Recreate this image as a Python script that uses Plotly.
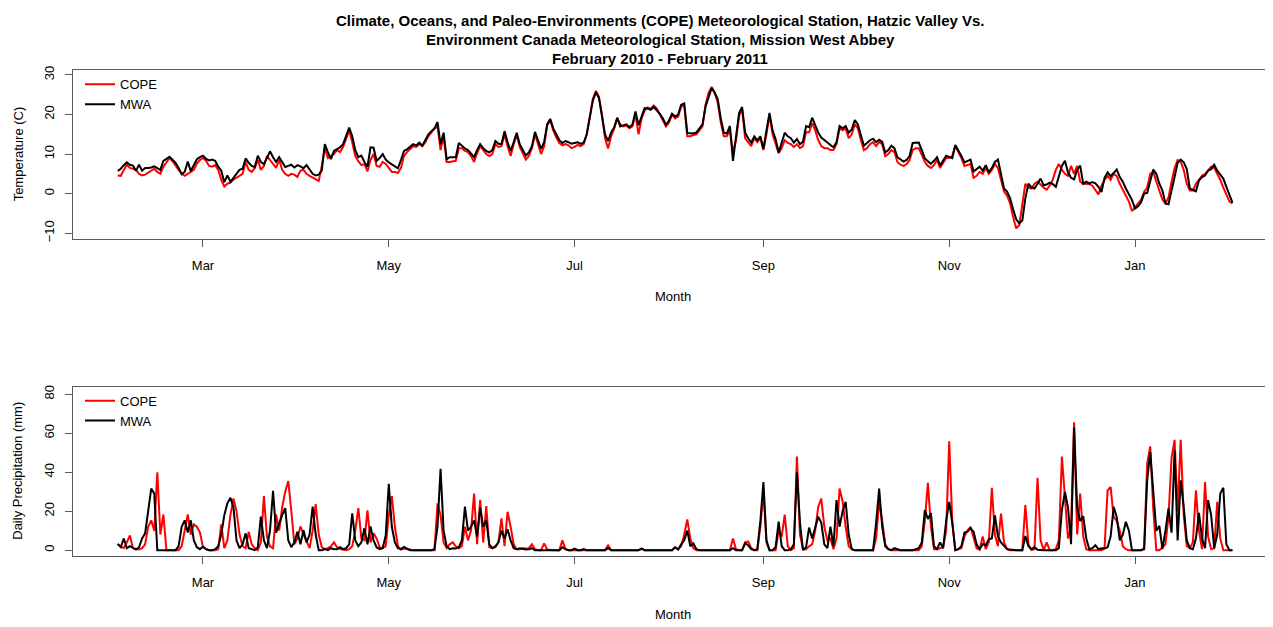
import pandas as pd
import plotly.graph_objects as go

# ---------------- data (daily, starting 2010-02-01) ----------------
START = "2010-02-01"

# Temperature (C), MWA (Environment Canada, Mission West Abbey)
mwa_temp = [
    # Feb 2010
    5.7, 6.3, 7.2, 7.9, 7.3, 7.1, 5.8, 7.3, 5.8, 6.5, 6.5, 6.6, 6.9, 6.4, 6.0, 8.3, 8.8, 9.3, 8.6, 7.8, 6.5, 4.9, 5.5, 8.1, 5.7, 7.2, 8.7, 9.2,
    # Mar
    9.6, 8.8, 8.4, 8.6, 8.3, 6.8, 5.8, 2.9, 4.6, 3.0, 4.0, 5.2, 6.0, 6.3, 8.9, 7.8, 7.0, 6.7, 9.6, 8.0, 7.5, 9.0, 10.7, 9.2, 8.0, 9.2, 7.8, 6.7, 7.0, 7.3, 6.6,
    # Apr
    7.2, 6.9, 6.4, 7.2, 6.0, 5.0, 4.6, 4.8, 5.8, 12.5, 10.5, 8.7, 10.8, 11.3, 11.7, 12.5, 14.5, 16.7, 14.5, 11.0, 9.2, 9.6, 8.0, 6.8, 11.7, 11.6, 8.3, 9.0, 10.0, 8.6,
    # May
    7.9, 7.4, 6.7, 6.4, 8.5, 10.8, 11.2, 11.8, 12.5, 12.2, 12.9, 12.1, 13.6, 15.0, 15.8, 16.5, 18.1, 12.5, 15.4, 8.7, 9.2, 9.2, 9.2, 12.8, 12.0, 11.4, 11.0, 10.0, 9.2, 11.0, 12.5,
    # Jun
    11.5, 10.8, 10.4, 11.0, 13.3, 12.6, 12.5, 15.8, 13.0, 10.8, 13.0, 15.4, 12.5, 11.0, 9.6, 10.4, 12.0, 15.6, 13.5, 11.3, 13.0, 17.5, 18.9, 16.5, 15.0, 13.5, 12.8, 13.3, 13.0, 12.6,
    # Jul
    12.8, 13.0, 12.6, 12.9, 15.0, 19.2, 23.5, 25.6, 24.2, 19.5, 15.0, 13.3, 15.5, 16.7, 19.2, 17.0, 17.2, 17.5, 16.8, 17.5, 20.8, 17.3, 19.5, 21.6, 21.5, 21.2, 21.9, 21.0, 20.2, 19.0, 17.4,
    # Aug
    18.5, 20.2, 19.5, 20.0, 22.5, 22.8, 15.3, 15.2, 15.2, 15.5, 16.5, 17.5, 22.0, 24.6, 26.7, 25.5, 23.9, 19.0, 15.4, 15.2, 17.1, 8.3, 14.0, 20.4, 21.9, 15.4, 14.0, 12.9, 14.5, 13.5, 14.5,
    # Sep
    11.3, 16.0, 20.4, 16.0, 13.8, 10.4, 12.8, 15.4, 14.5, 14.0, 12.9, 13.8, 12.5, 13.2, 17.1, 16.8, 19.2, 17.5, 15.4, 14.2, 13.5, 12.9, 12.3, 11.7, 13.0, 17.1, 16.5, 17.1, 15.4, 16.2,
    # Oct
    18.6, 17.5, 15.0, 12.1, 12.8, 13.5, 13.9, 13.0, 13.6, 13.1, 10.4, 11.0, 12.1, 11.5, 9.2, 8.6, 8.1, 8.5, 9.5, 12.8, 12.9, 12.9, 11.0, 8.9, 8.2, 7.5, 8.3, 9.2, 7.1, 8.5, 9.6,
    # Nov
    9.3, 9.0, 12.3, 11.0, 9.5, 7.9, 8.2, 8.6, 5.6, 6.3, 6.8, 5.8, 7.2, 5.4, 6.5, 8.0, 8.6, 5.0, 1.3, 0.5, -1.2, -4.0, -6.5, -7.5, -6.8, -1.2, 2.5, 1.6, 1.3, 2.5,
    # Dec
    3.8, 2.1, 2.3, 2.8, 2.4, 1.7, 4.6, 7.0, 8.3, 5.4, 4.0, 3.6, 6.0, 7.1, 2.5, 3.0, 2.6, 2.9, 2.6, 1.7, 0.4, 4.0, 5.4, 4.4, 5.2, 6.1, 4.2, 3.0, 1.3, -0.2, -1.6,
    # Jan 2011
    -3.8, -3.2, -2.2, 0.0, 0.2, 2.9, 6.1, 5.0, 2.5, 0.8, -2.5, -2.7, 0.5, 4.2, 7.8, 8.6, 7.9, 6.2, 1.3, 1.0, 0.6, 3.3, 4.2, 4.6, 5.8, 6.2, 7.3, 5.8, 4.8, 3.8, 1.7,
    # Feb 2011
    -0.3, -2.3,
]

# Temperature (C), COPE (Hatzic Valley)
cope_temp = [
    4.6, 4.5, 6.0, 7.3, 6.5, 6.3, 6.0, 5.0, 4.6, 4.8, 5.3, 5.9, 6.3, 5.5, 5.0, 6.8, 8.0, 9.0, 8.2, 7.0, 6.0, 5.0, 4.5, 5.0, 5.5, 6.0, 7.6, 8.5,
    9.0, 8.3, 7.0, 6.8, 7.2, 6.0, 3.5, 1.8, 2.5, 2.8, 3.5, 4.0, 4.5, 5.0, 8.0, 6.0, 5.5, 6.5, 8.5, 6.0, 7.0, 9.5, 8.5, 7.5, 6.5, 8.5, 6.0, 5.0, 4.5, 5.0, 4.8,
    4.2, 5.8, 6.0, 5.0, 4.5, 4.0, 3.5, 3.2, 7.0, 11.5, 9.0, 9.5, 10.0, 11.0, 10.5, 11.8, 14.0, 16.0, 13.0, 9.5, 8.2, 7.2, 7.5, 5.6, 8.5, 10.0, 7.0, 6.8, 8.0, 7.5,
    6.5, 5.5, 5.5, 5.2, 6.5, 9.5, 10.5, 11.2, 12.0, 11.8, 12.5, 12.0, 13.0, 14.5, 15.5, 16.5, 17.0, 11.0, 14.5, 8.0, 8.0, 8.2, 8.3, 11.5, 11.5, 10.8, 10.5, 9.5, 8.0, 10.2, 12.0,
    11.0, 10.0, 9.5, 10.0, 12.5, 11.8, 12.0, 15.0, 12.0, 9.5, 12.5, 14.8, 11.8, 10.0, 8.6, 9.5, 11.5, 15.0, 12.5, 10.0, 12.0, 17.2, 18.5, 16.0, 14.2, 12.8, 12.2, 12.5, 12.2, 11.5,
    11.8, 12.3, 12.0, 12.5, 15.0, 19.5, 24.0, 26.0, 24.5, 20.0, 14.0, 11.4, 14.5, 16.5, 19.0, 17.5, 17.0, 17.2, 16.5, 17.0, 20.0, 15.0, 19.0, 21.0, 21.8, 21.5, 22.3, 21.5, 20.0, 18.5, 17.0,
    18.0, 20.0, 19.0, 19.5, 22.0, 22.3, 14.5, 14.5, 14.8, 15.0, 16.0, 17.0, 22.5, 25.5, 27.0, 25.5, 23.0, 18.0, 14.5, 14.5, 16.0, 10.5, 13.5, 19.5, 21.5, 14.0, 13.0, 12.0, 14.0, 13.0, 14.0,
    11.0, 15.0, 19.8, 15.0, 12.5, 10.2, 11.5, 13.5, 12.8, 12.5, 11.8, 12.5, 11.5, 12.0, 15.5, 15.5, 17.8, 16.0, 13.5, 12.0, 11.5, 11.5, 11.0, 11.0, 12.5, 16.5, 16.0, 16.5, 14.0, 15.0,
    17.5, 16.5, 13.5, 11.0, 11.5, 12.5, 13.0, 12.0, 13.0, 12.5, 9.5, 10.0, 11.0, 10.5, 8.0, 7.3, 7.0, 7.5, 8.5, 11.0, 11.5, 11.5, 9.8, 8.0, 7.0, 6.5, 7.2, 8.5, 6.5, 7.8, 9.0,
    9.0, 9.5, 12.0, 10.5, 9.0, 7.0, 7.2, 7.5, 4.0, 4.5, 5.5, 5.0, 6.5, 5.0, 6.0, 7.5, 6.5, 3.5, 0.5, -0.5, -2.5, -6.0, -8.8, -8.0, -3.0, 2.5, 1.5, 1.3, 2.5, 3.0,
    2.3, 1.5, 1.0, 2.0, 3.5, 6.0, 7.5, 6.0, 5.0, 4.5, 7.0, 5.0, 7.0, 3.0, 2.5, 2.5, 2.4, 2.0, 1.0, -0.2, 2.0, 3.5, 4.5, 3.5, 5.0, 4.5, 2.5, 1.0, -0.5, -2.0, -4.4,
    -3.5, -2.5, -1.5, 0.5, 1.5, 5.0, 5.5, 3.0, 0.5, -1.5, -2.5, -1.0, 3.0, 6.5, 8.5, 8.0, 6.0, 2.5, 0.8, 0.8, 2.5, 3.5, 4.5, 5.0, 5.8, 6.8, 6.5, 5.0, 3.5, 1.5, -0.5,
    -2.0, -2.5,
]

# Daily precipitation (mm), MWA
mwa_precip = [
    3.2, 1.5, 6.0, 1.0, 2.0, 1.0, 0.3, 1.5, 6.0, 8.6, 20.0, 31.6, 29.0, 0, 0, 0, 0, 0, 0, 0, 2.0, 12.0, 15.3, 9.0, 15.3, 5.0, 1.5, 0.5,
    1.7, 0.5, 0, 0, 0.5, 2.0, 8.0, 18.0, 24.0, 26.9, 22.0, 5.0, 1.0, 3.0, 8.6, 1.0, 0.5, 0, 1.5, 17.2, 5.0, 1.0, 10.0, 30.4, 9.0, 14.0, 18.0, 21.6, 5.0, 1.5, 4.0,
    9.4, 3.0, 10.2, 4.0, 8.0, 22.3, 8.0, 0, 0, 0.5, 0, 1.0, 0.5, 0.5, 1.5, 0.5, 1.0, 3.0, 18.9, 5.0, 2.0, 4.0, 11.2, 3.0, 12.2, 5.0, 1.5, 0.5, 1.0, 7.7,
    34.1, 12.0, 4.0, 1.0, 0.5, 1.6, 0.8, 0, 0, 0, 0, 0, 0, 0, 0, 0.5, 12.0, 41.8, 10.0, 2.0, 0.5, 1.0, 0.8, 1.5, 5.0, 22.3, 10.0, 12.0, 15.3, 7.0, 22.0,
    12.0, 15.3, 3.0, 1.0, 2.0, 4.0, 10.0, 6.0, 10.7, 5.0, 1.0, 0.5, 1.0, 0.8, 0.3, 0.5, 1.0, 0, 0, 0, 0, 0, 0, 0, 0, 0, 1.5, 0.5, 0, 0,
    0.8, 0, 0, 0.5, 0, 0, 0, 0, 0, 0, 0, 1.0, 0, 0, 0, 0, 0, 0, 0, 0, 0, 0, 0.8, 0, 0, 0, 0, 0, 0, 0, 0,
    0, 0, 1.5, 0.3, 3.0, 5.0, 10.0, 2.0, 3.5, 0.5, 0, 0, 0, 0, 0, 0, 0, 0, 0, 0, 0, 1.0, 0, 0, 0, 3.5, 2.5, 0.5, 0, 0.5, 15.0,
    34.9, 5.0, 0, 0, 1.5, 14.6, 2.0, 0, 0, 0.5, 3.0, 40.0, 14.0, 0, 1.5, 11.6, 6.0, 12.0, 17.2, 14.0, 3.0, 1.0, 12.0, 2.0, 25.7, 12.0, 20.0, 24.8, 8.0, 0.5,
    0, 0, 0, 0, 0, 0, 0, 14.0, 31.6, 12.0, 2.0, 0.5, 0, 1.0, 0.3, 0, 0, 0, 0, 0, 0.5, 1.0, 4.0, 20.6, 16.0, 19.0, 2.0, 0.5, 4.0, 1.0, 15.0,
    24.8, 14.0, 0, 0.5, 2.0, 9.0, 9.5, 11.2, 9.5, 3.0, 0.5, 3.0, 2.5, 5.5, 6.0, 17.9, 7.0, 4.0, 2.0, 0.5, 0.3, 0, 0, 0, 0, 7.3, 2.0, 0.5, 1.5, 0.2,
    0, 0, 0, 0, 0, 0, 1.0, 20.6, 29.9, 22.0, 3.0, 63.0, 22.0, 15.0, 17.5, 6.0, 0.5, 1.0, 2.5, 0.5, 1.0, 0.8, 1.5, 7.0, 22.2, 17.0, 5.0, 8.0, 14.6, 10.0, 0,
    0, 0, 0, 0.5, 35.8, 50.3, 32.0, 10.0, 12.5, 0.5, 10.0, 21.4, 9.0, 51.2, 5.0, 35.8, 22.0, 5.0, 1.0, 0.5, 6.0, 19.1, 6.0, 1.0, 25.7, 18.0, 1.0, 8.0, 29.1, 32.0, 3.0,
    0, 0,
]

# Daily precipitation (mm), COPE
cope_precip = [
    3.0, 2.0, 1.0, 4.0, 7.5, 1.0, 0.5, 0.3, 1.0, 3.0, 12.0, 15.3, 10.0, 40.0, 8.0, 18.3, 0, 0, 0, 0, 0, 2.0, 10.0, 18.3, 8.0, 13.2, 12.0, 9.0,
    1.5, 0.5, 0, 0, 0, 0.5, 13.2, 1.0, 5.0, 18.0, 26.5, 20.0, 8.0, 2.0, 1.0, 9.4, 3.0, 1.0, 0, 4.0, 27.7, 7.0, 2.0, 1.0, 18.3, 10.0, 22.0, 30.0, 35.5, 20.0, 3.0,
    6.0, 12.2, 8.0, 4.0, 1.0, 10.0, 23.6, 8.0, 1.5, 0.5, 1.0, 2.0, 4.0, 1.5, 0.5, 0.3, 0, 0.5, 2.0, 10.0, 21.6, 6.0, 5.0, 20.4, 4.0, 8.6, 6.0, 1.5, 1.0, 2.0,
    18.0, 27.7, 12.0, 2.0, 0.3, 0.8, 0.5, 0, 0, 0, 0, 0, 0, 0, 0, 0, 24.0, 18.0, 4.0, 1.0, 3.0, 4.0, 2.0, 1.0, 2.0, 12.0, 5.0, 10.0, 29.0, 3.0, 25.8,
    4.0, 22.6, 1.5, 1.0, 1.5, 4.0, 16.3, 2.0, 19.7, 12.0, 3.0, 0.5, 0.5, 1.0, 0.8, 1.0, 3.0, 0.5, 0, 0, 3.5, 0.3, 0, 0, 0, 0, 5.0, 0.5, 0, 0,
    0, 0, 0, 0, 0, 0, 0, 0, 0, 0, 0, 2.5, 0, 0, 0, 0, 0, 0, 0, 0, 0, 0, 0.8, 0, 0, 0, 0, 0, 0, 0, 0,
    0, 0, 1.5, 0.5, 2.0, 8.0, 15.8, 6.0, 1.0, 0, 0, 0, 0, 0, 0, 0, 0, 0, 0, 0, 0, 6.0, 0.5, 0, 0, 4.0, 4.5, 1.0, 0, 0, 12.0,
    30.0, 4.0, 0, 0, 0, 10.0, 7.0, 18.2, 2.0, 0, 1.0, 48.0, 8.0, 0.5, 0.5, 2.0, 3.0, 10.0, 22.3, 26.5, 12.0, 5.0, 6.0, 0.5, 6.0, 31.6, 25.0, 12.0, 2.0, 0.5,
    0, 0, 0, 0, 0, 0, 0, 6.0, 24.8, 15.0, 3.0, 0.5, 0, 0, 0, 0, 0, 0, 0, 0, 0, 0, 2.0, 15.0, 34.5, 12.0, 0.5, 0.5, 1.0, 1.5, 10.0,
    55.9, 15.0, 0, 0.5, 1.0, 7.0, 10.0, 12.0, 6.0, 1.0, 0.3, 7.0, 0.5, 4.0, 32.0, 8.0, 2.0, 18.8, 4.0, 0.5, 0, 0, 0, 0, 0, 23.2, 3.0, 0, 0.5, 37.2,
    5.0, 0, 4.0, 0, 0, 0.5, 5.0, 48.0, 28.0, 6.0, 12.0, 65.6, 8.0, 29.1, 7.0, 0.5, 0, 0, 0, 0, 0, 1.0, 30.7, 32.4, 17.0, 15.0, 10.0, 2.0, 0.5, 0, 0,
    0, 0, 0, 1.0, 44.4, 53.3, 21.0, 0, 0, 1.5, 3.0, 17.0, 47.2, 56.6, 20.0, 56.6, 18.0, 2.0, 1.0, 4.0, 30.7, 10.0, 0.5, 35.0, 7.0, 0.5, 1.0, 24.8, 6.0, 0, 0,
    0, 0,
]

tick_dates = ["2010-03-01", "2010-05-01", "2010-07-01", "2010-09-01", "2010-11-01", "2011-01-01"]
tick_labels = ["Mar", "May", "Jul", "Sep", "Nov", "Jan"]
temp_ticks = [-10, 0, 10, 20, 30]
precip_ticks = [0, 20, 40, 60, 80]

title_lines = [
    "Climate, Oceans, and Paleo-Environments (COPE) Meteorological Station, Hatzic Valley Vs.",
    "Environment Canada Meteorological Station, Mission West Abbey",
    "February 2010 - February 2011",
]


def dates_for(series):
    return pd.date_range(START, periods=len(series), freq="D")


# ---------------- figure ----------------
# The page body has an 8px default margin, so the figure is drawn 8px in from
# the window's top-left corner; positions below are given in window pixels.
OFF = 8
W, H = 1273 - OFF, 627 - OFF
FONT = "Liberation Sans, Arial, Helvetica, sans-serif"
RED = "#FF0000"
BLACK = "#000000"
FRAME = "#5a5a5a"


def px_x(p):
    return (p - OFF) / W


def px_y(p):
    return 1 - (p - OFF) / H


fig = go.Figure()
fig.add_trace(go.Scatter(x=dates_for(cope_temp), y=cope_temp, mode="lines", name="COPE",
                         line=dict(color=RED, width=2), xaxis="x", yaxis="y", legend="legend"))
fig.add_trace(go.Scatter(x=dates_for(mwa_temp), y=mwa_temp, mode="lines", name="MWA",
                         line=dict(color=BLACK, width=2), xaxis="x", yaxis="y", legend="legend"))
fig.add_trace(go.Scatter(x=dates_for(cope_precip), y=cope_precip, mode="lines", name="COPE",
                         line=dict(color=RED, width=2), xaxis="x2", yaxis="y2", legend="legend2"))
fig.add_trace(go.Scatter(x=dates_for(mwa_precip), y=mwa_precip, mode="lines", name="MWA",
                         line=dict(color=BLACK, width=2), xaxis="x2", yaxis="y2", legend="legend2"))

x_range = ["2010-01-17 07:40", "2011-02-14 15:40"]
x_dom = [px_x(73), px_x(1271)]
TICKFONT = dict(family=FONT, size=13, color="#000")

xcommon = dict(type="date", range=x_range, domain=x_dom, tickmode="array",
               tickvals=tick_dates, ticktext=tick_labels, ticks="outside", ticklen=7,
               tickcolor=FRAME, tickwidth=1, showgrid=False, zeroline=False,
               showline=True, linecolor=FRAME, linewidth=1, mirror=True,
               tickfont=TICKFONT, ticklabelstandoff=7)
ycommon = dict(ticks="outside", ticklen=7, tickcolor=FRAME, tickwidth=1, showgrid=False,
               zeroline=False, showline=True, linecolor=FRAME, linewidth=1, mirror=True,
               tickangle=-90, tickmode="array", tickfont=TICKFONT, ticklabelstandoff=6)

LEGFONT = dict(family=FONT, size=13, color="#000")
fig.update_layout(
    width=W, height=H,
    margin=dict(l=0, r=0, t=0, b=0),
    paper_bgcolor="white", plot_bgcolor="white",
    font=dict(family=FONT, size=12, color="#000"),
    xaxis=dict(anchor="y", **xcommon),
    yaxis=dict(anchor="x", domain=[px_y(237.7), px_y(66.7)], range=[-11.5, 31.25],
               tickvals=temp_ticks, **ycommon),
    xaxis2=dict(anchor="y2", **xcommon),
    yaxis2=dict(anchor="x2", domain=[px_y(558.3), px_y(387.3)], range=[-3.05, 83.75],
                tickvals=precip_ticks, **ycommon),
    legend=dict(x=px_x(80), y=px_y(66), xanchor="left", yanchor="top",
                bgcolor="rgba(0,0,0,0)", font=LEGFONT, tracegroupgap=0, itemwidth=30),
    legend2=dict(x=px_x(80), y=px_y(386), xanchor="left", yanchor="top",
                 bgcolor="rgba(0,0,0,0)", font=LEGFONT, tracegroupgap=0, itemwidth=30),
    showlegend=True,
)

annotations = []
for line, ypx in zip(title_lines, [17, 36, 55]):
    annotations.append(dict(text="<b>%s</b>" % line, x=px_x(660), y=px_y(ypx), xref="paper",
                            yref="paper", showarrow=False, xanchor="center", yanchor="middle",
                            font=dict(family=FONT, size=15, color="#000")))
for ypx in [296, 617]:
    annotations.append(dict(text="Month", x=px_x(673), y=px_y(ypx), xref="paper", yref="paper",
                            showarrow=False, xanchor="center", yanchor="middle",
                            font=dict(family=FONT, size=13, color="#000")))
annotations.append(dict(text="Temperature (C)", x=px_x(18), y=px_y(152), xref="paper",
                        yref="paper", showarrow=False, textangle=-90, xanchor="center",
                        yanchor="middle", font=dict(family=FONT, size=13, color="#000")))
annotations.append(dict(text="Daily Precipitation (mm)", x=px_x(18), y=px_y(472), xref="paper",
                        yref="paper", showarrow=False, textangle=-90, xanchor="center",
                        yanchor="middle", font=dict(family=FONT, size=13, color="#000")))
fig.update_layout(annotations=annotations)

fig.write_html("out.html")
